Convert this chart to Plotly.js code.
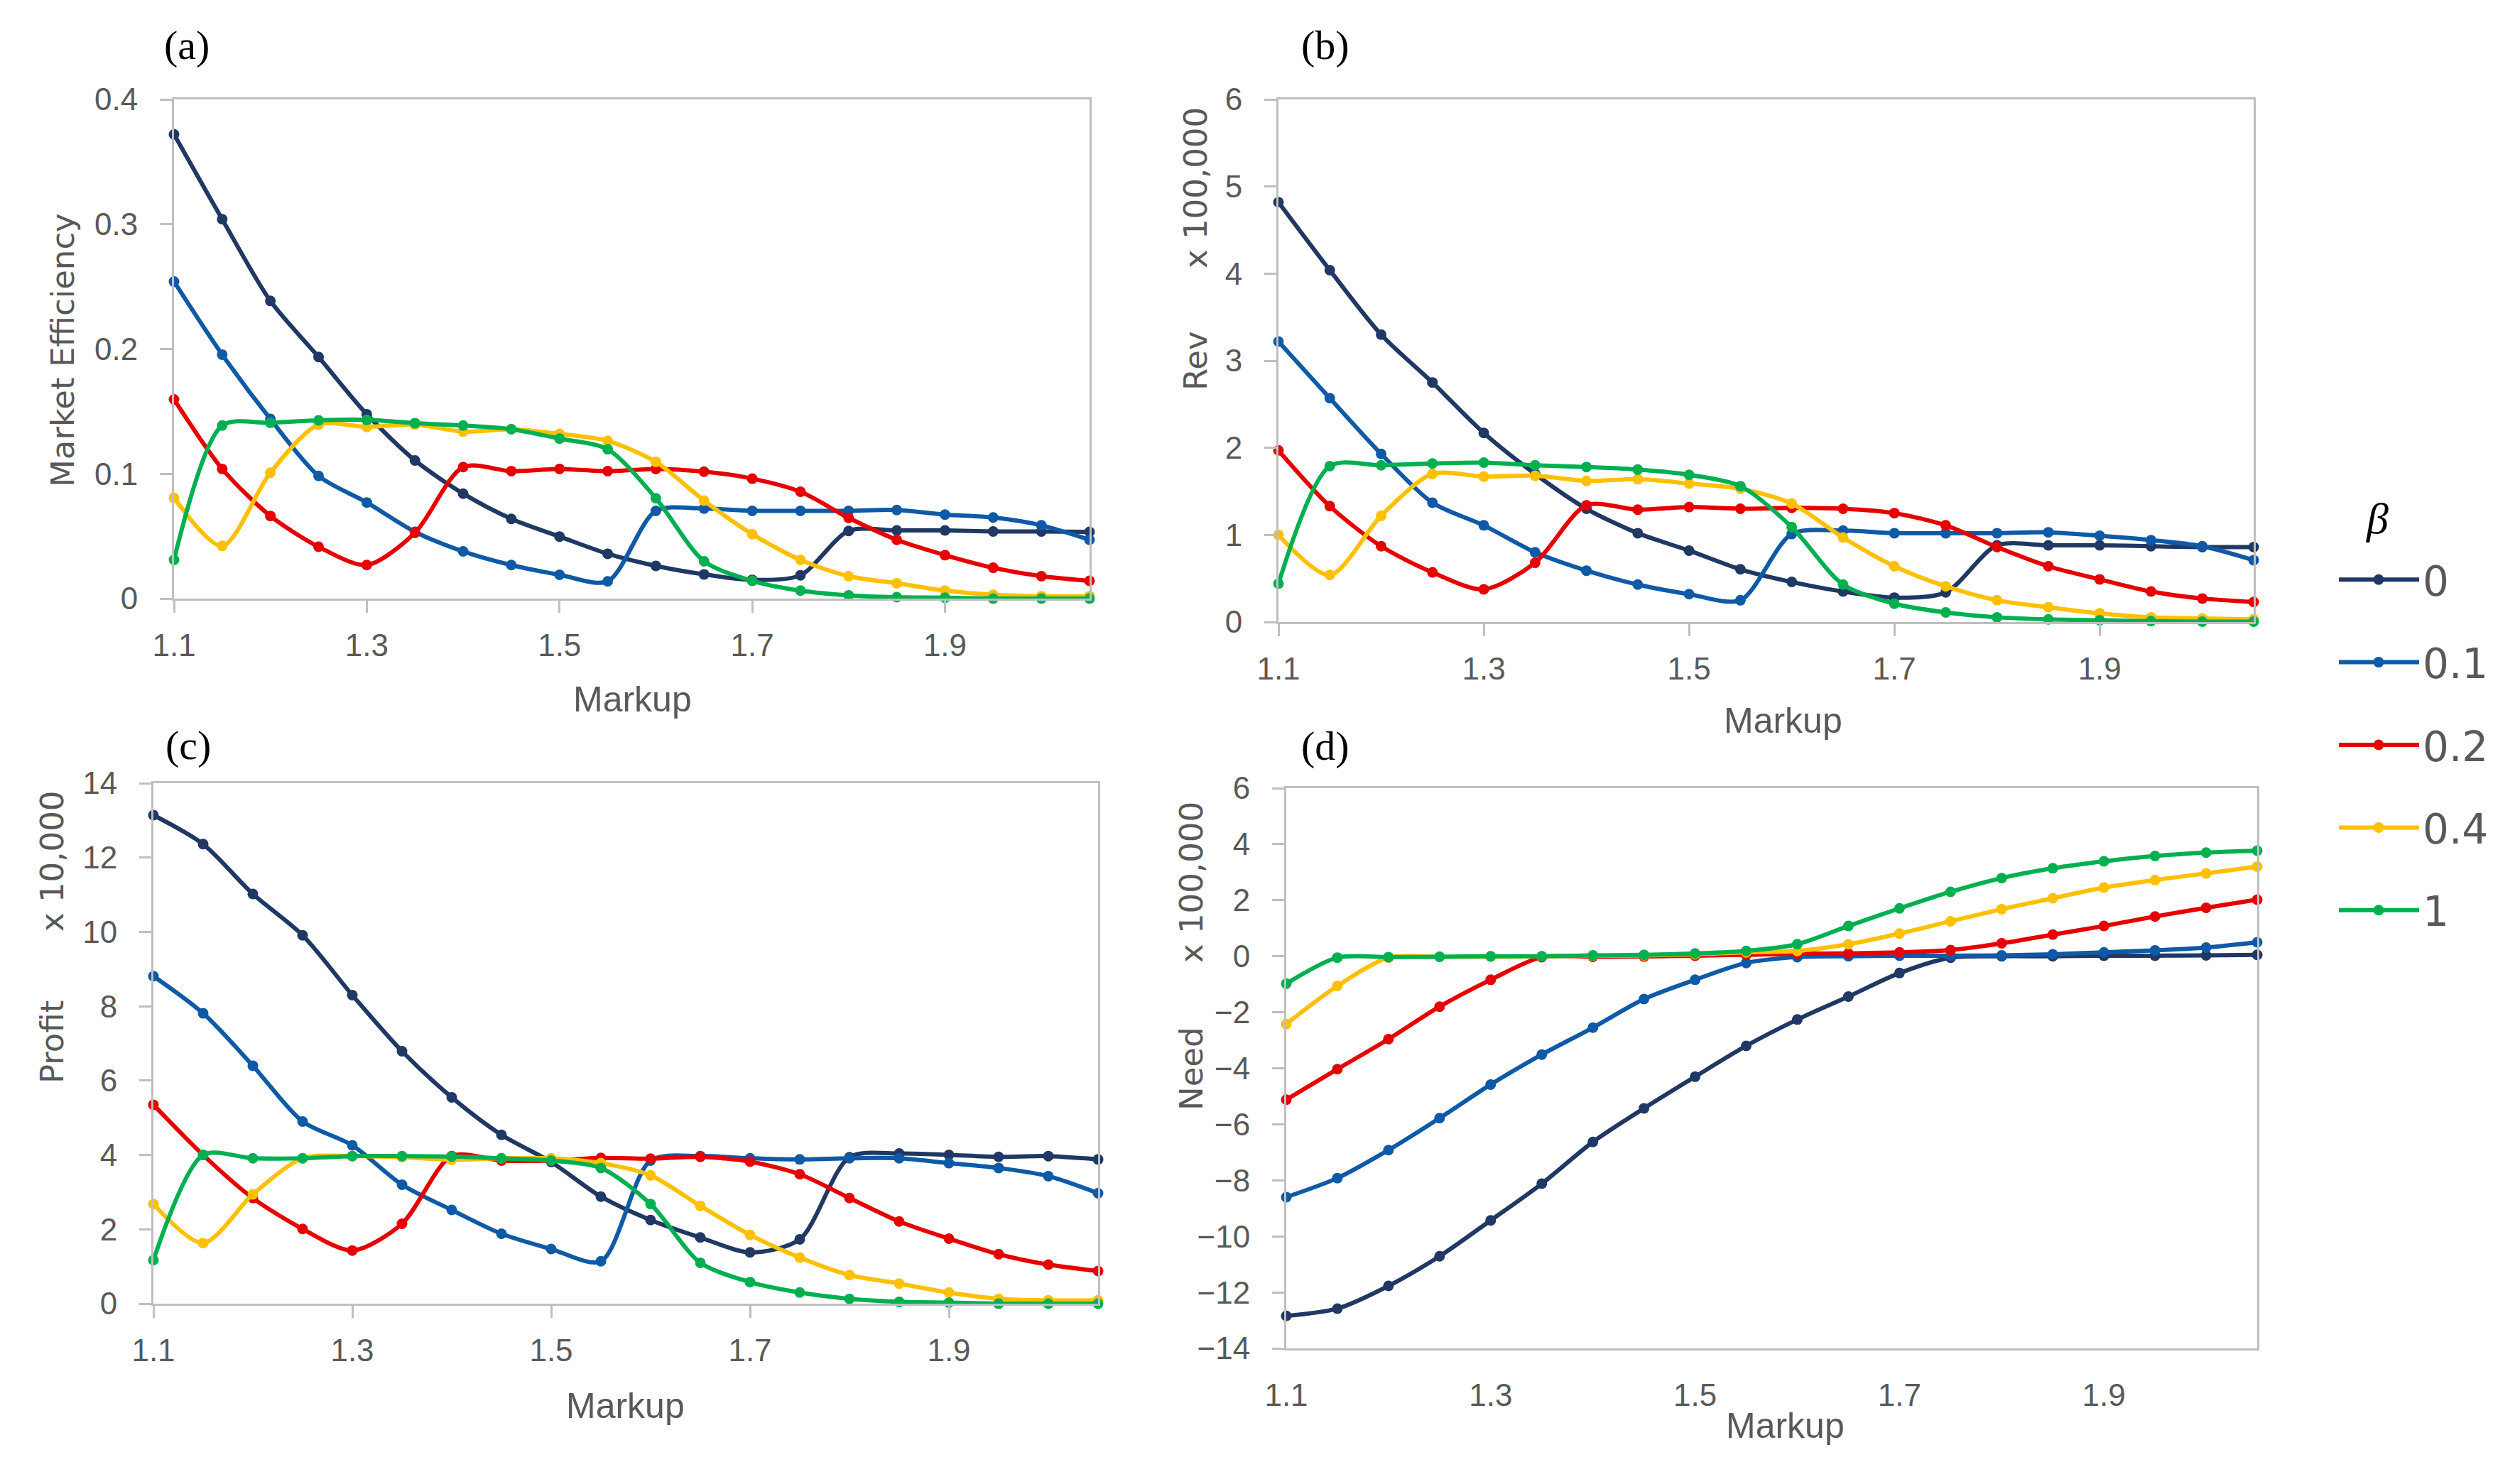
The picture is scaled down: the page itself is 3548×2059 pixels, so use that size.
<!DOCTYPE html>
<html><head><meta charset="utf-8">
<script src="https://cdn.plot.ly/plotly-3.0.1.min.js"></script>
<style>html,body{margin:0;padding:0;background:#fff;} #chart{width:3548px;height:2059px;}</style>
</head><body><div id="chart"></div>
<script>
// ---------------- data ----------------
const markup = [1.1,1.15,1.2,1.25,1.3,1.35,1.4,1.45,1.5,1.55,1.6,1.65,1.7,1.75,1.8,1.85,1.9,1.95,2.0,2.05];
const betaLabels = ['0','0.1','0.2','0.4','1'];
const betaColors = ['#1f3864','#0e5aa7','#e60000','#ffc000','#00b050'];

// (a) Market Efficiency
const effB0  = [0.372,0.304,0.2385,0.1936,0.1477,0.1107,0.0841,0.0639,0.0497,0.0359,0.0262,0.0194,0.0150,0.0187,0.0542,0.0546,0.0546,0.0538,0.0538,0.0535];
const effB01 = [0.254,0.1955,0.1439,0.0983,0.0770,0.0535,0.0378,0.0269,0.0191,0.0138,0.0703,0.0721,0.0703,0.0703,0.0703,0.0710,0.0673,0.0650,0.0587,0.0471];
const effB02 = [0.1596,0.1039,0.0662,0.0415,0.0269,0.0527,0.1054,0.1021,0.1039,0.1021,0.1039,0.1017,0.0961,0.0856,0.0647,0.0471,0.0348,0.0247,0.0179,0.0142];
const effB04 = [0.0807,0.0422,0.1009,0.1394,0.1376,0.1394,0.1338,0.1357,0.1320,0.1264,0.1095,0.0785,0.0516,0.0310,0.0179,0.0123,0.0064,0.0030,0.0019,0.0019];
const effB1  = [0.0310,0.1387,0.1409,0.1428,0.1432,0.1406,0.1387,0.1357,0.1282,0.1196,0.0804,0.0299,0.0142,0.0064,0.0026,0.0011,0.0007,0.0,0.0,0.0];

// (b) Rev (x 100,000)
const revB0  = [4.82,4.04,3.30,2.75,2.17,1.70,1.30,1.02,0.82,0.605,0.46,0.35,0.28,0.34,0.88,0.88,0.88,0.87,0.86,0.86];
const revB01 = [3.22,2.57,1.93,1.37,1.11,0.80,0.59,0.43,0.32,0.25,1.01,1.05,1.02,1.02,1.02,1.03,0.99,0.94,0.87,0.71];
const revB02 = [1.97,1.33,0.87,0.57,0.375,0.68,1.34,1.29,1.32,1.30,1.31,1.30,1.25,1.11,0.86,0.64,0.49,0.35,0.27,0.23];
const revB04 = [1.00,0.54,1.22,1.70,1.67,1.68,1.62,1.64,1.59,1.53,1.36,0.97,0.64,0.41,0.25,0.17,0.10,0.054,0.04,0.03];
const revB1  = [0.44,1.79,1.80,1.82,1.83,1.80,1.78,1.75,1.69,1.56,1.09,0.43,0.21,0.11,0.054,0.03,0.02,0.01,0.005,0.005];

// (c) Profit (x 10,000)
const profB0  = [13.14,12.36,11.02,9.91,8.30,6.79,5.55,4.54,3.81,2.88,2.25,1.78,1.38,1.73,3.94,4.04,4.00,3.95,3.97,3.88];
const profB01 = [8.81,7.81,6.40,4.90,4.26,3.20,2.52,1.88,1.47,1.14,3.85,3.97,3.91,3.88,3.91,3.91,3.78,3.65,3.43,2.97];
const profB02 = [5.35,4.00,2.84,2.01,1.43,2.15,3.97,3.85,3.85,3.92,3.90,3.95,3.82,3.48,2.84,2.21,1.75,1.33,1.05,0.88];
const profB04 = [2.68,1.63,2.94,3.91,3.97,3.94,3.87,3.91,3.91,3.78,3.45,2.63,1.85,1.24,0.77,0.54,0.30,0.13,0.09,0.09];
const profB1  = [1.17,4.00,3.91,3.91,3.97,3.97,3.96,3.91,3.85,3.65,2.68,1.10,0.58,0.30,0.13,0.05,0.03,0.0,0.0,0.0];

// (d) Need (x 100,000)
const needB0  = [-12.84,-12.58,-11.77,-10.71,-9.43,-8.12,-6.63,-5.43,-4.30,-3.20,-2.26,-1.44,-0.60,-0.05,0.0,0.0,0.02,0.02,0.03,0.05];
const needB01 = [-8.60,-7.92,-6.92,-5.78,-4.58,-3.51,-2.55,-1.53,-0.84,-0.24,-0.03,0.0,0.02,0.02,0.03,0.07,0.14,0.21,0.31,0.50];
const needB02 = [-5.12,-4.03,-2.96,-1.80,-0.84,-0.03,-0.02,-0.01,0.02,0.05,0.09,0.10,0.14,0.22,0.46,0.77,1.08,1.42,1.73,2.02];
const needB04 = [-2.42,-1.06,-0.05,-0.02,-0.02,0.0,0.02,0.03,0.07,0.14,0.19,0.43,0.81,1.25,1.68,2.07,2.45,2.72,2.96,3.20];
const needB1  = [-0.98,-0.05,-0.03,-0.02,0.0,0.0,0.03,0.05,0.10,0.19,0.43,1.08,1.71,2.30,2.79,3.14,3.39,3.58,3.70,3.77];

const panels = [
  {xa:'x',  ya:'y',  series:[effB0,effB01,effB02,effB04,effB1]},
  {xa:'x2', ya:'y2', series:[revB0,revB01,revB02,revB04,revB1]},
  {xa:'x3', ya:'y3', series:[profB0,profB01,profB02,profB04,profB1]},
  {xa:'x4', ya:'y4', series:[needB0,needB01,needB02,needB04,needB1]}
];

// ---------------- traces ----------------
const traces = [];
panels.forEach((p, pi) => {
  p.series.forEach((vals, si) => {
    traces.push({
      type:'scatter', mode:'lines+markers', x:markup, y:vals,
      xaxis:p.xa, yaxis:p.ya,
      name:betaLabels[si], legendgroup:'b'+si, showlegend: pi===0,
      line:{color:betaColors[si], width:6, shape:'spline', smoothing:0.8},
      marker:{color:betaColors[si], size:15},
      cliponaxis:false, hoverinfo:'x+y+name'
    });
  });
});

// ---------------- layout ----------------
const W = 3548, H = 2059;
const fx = px => px / W;
const fy = py => 1 - py / H;
const tickFont = {family:'Liberation Sans, Arial, sans-serif', size:44, color:'#595959'};
const titleFont = {family:'DejaVu Sans, Verdana, sans-serif', size:45, color:'#595959'};
const markupFont = {family:'Liberation Sans, Arial, sans-serif', size:50, color:'#595959'};
const labelFont = {family:'Liberation Serif, Times New Roman, serif', size:58, color:'#000000'};
const betaFont = {family:'Liberation Serif, Times New Roman, serif', size:62, color:'#000000'};

function xAxis(d, anchor, extra) {
  return Object.assign({
    domain:d, anchor:anchor, range:[1.1,2.05], tickmode:'linear', tick0:1.1, dtick:0.2,
    showline:true, mirror:true, linecolor:'#bfbfbf', linewidth:3,
    ticks:'outside', ticklen:17, tickwidth:3, tickcolor:'#bfbfbf',
    showgrid:false, zeroline:false, tickfont:tickFont, ticklabelstandoff:8, fixedrange:true
  }, extra || {});
}
function yAxis(d, anchor, range, dtick, extra) {
  return Object.assign({
    domain:d, anchor:anchor, range:range, tickmode:'linear', tick0:range[0], dtick:dtick,
    showline:true, mirror:true, linecolor:'#bfbfbf', linewidth:3,
    ticks:'outside', ticklen:17, tickwidth:3, tickcolor:'#bfbfbf',
    showgrid:false, zeroline:false, tickfont:tickFont, ticklabelstandoff:22, fixedrange:true
  }, extra || {});
}

const dA = {x:[fx(245), fx(1534)], y:[fy(843), fy(140)]};
const dB = {x:[fx(1800), fx(3173)], y:[fy(876), fy(140)]};
const dC = {x:[fx(216), fx(1546)], y:[fy(1836), fy(1103)]};
const dD = {x:[fx(1811), fx(3178)], y:[fy(1899), fy(1110)]};
const needRange = [-14, 6];
const zeroPos = dD.y[0] + (0 - needRange[0]) / (needRange[1] - needRange[0]) * (dD.y[1] - dD.y[0]);

function ann(text, px, py, font, angle) {
  return {text:text, xref:'paper', yref:'paper', x:fx(px), y:fy(py), xanchor:'center', yanchor:'middle',
          showarrow:false, font:font, textangle:angle||0};
}

const layout = {
  width:W, height:H, autosize:false,
  margin:{l:0, r:0, t:0, b:0},
  paper_bgcolor:'#ffffff', plot_bgcolor:'rgba(0,0,0,0)',
  showlegend:true,
  legend:{
    x:fx(3288), y:fy(772), xanchor:'left', yanchor:'top',
    font:{family:'DejaVu Sans, Verdana, sans-serif', size:58, color:'#595959'},
    tracegroupgap:38, itemwidth:113, borderwidth:0, bgcolor:'rgba(0,0,0,0)', traceorder:'grouped'
  },
  xaxis: xAxis(dA.x, 'y'),
  yaxis: yAxis(dA.y, 'x', [0,0.4], 0.1),
  xaxis2: xAxis(dB.x, 'y2'),
  yaxis2: yAxis(dB.y, 'x2', [0,6], 1),
  xaxis3: xAxis(dC.x, 'y3'),
  yaxis3: yAxis(dC.y, 'x3', [0,14], 2),
  xaxis4: xAxis(dD.x, 'y4', {tickcolor:'rgba(0,0,0,0)'}),
  yaxis4: yAxis(dD.y, 'x4', needRange, 2),
  xaxis5: xAxis(dD.x, 'free', {overlaying:'x4', position:zeroPos, mirror:false, showticklabels:false}),
  annotations: [
    ann('(a)', 263, 63, labelFont),
    ann('(b)', 1866, 63, labelFont),
    ann('(c)', 265, 1049, labelFont),
    ann('(d)', 1866, 1050, labelFont),
    ann('<i>β</i>', 3347, 730, betaFont),
    ann('Market Efficiency', 88, 493, titleFont, -90),
    ann('Rev', 1684, 508, titleFont, -90),
    ann('x 100,000', 1684, 265, titleFont, -90),
    ann('Profit', 73, 1468, titleFont, -90),
    ann('x 10,000', 73, 1213, titleFont, -90),
    ann('Need', 1677, 1505, titleFont, -90),
    ann('x 100,000', 1677, 1243, titleFont, -90),
    ann('Markup', 890, 985, markupFont),
    ann('Markup', 2510, 1015, markupFont),
    ann('Markup', 880, 1980, markupFont),
    ann('Markup', 2513, 2008, markupFont)
  ]
};

Plotly.newPlot('chart', traces, layout, {displayModeBar:false, staticPlot:true}).then(() => {
  document.querySelectorAll('#chart .legend .js-line').forEach(p => p.setAttribute('d', 'M5,0h113'));
  document.querySelectorAll('#chart .legend .legendpoints .scatterpts').forEach(p => p.setAttribute('transform', 'translate(61,0)'));
});
</script>
</body></html>
